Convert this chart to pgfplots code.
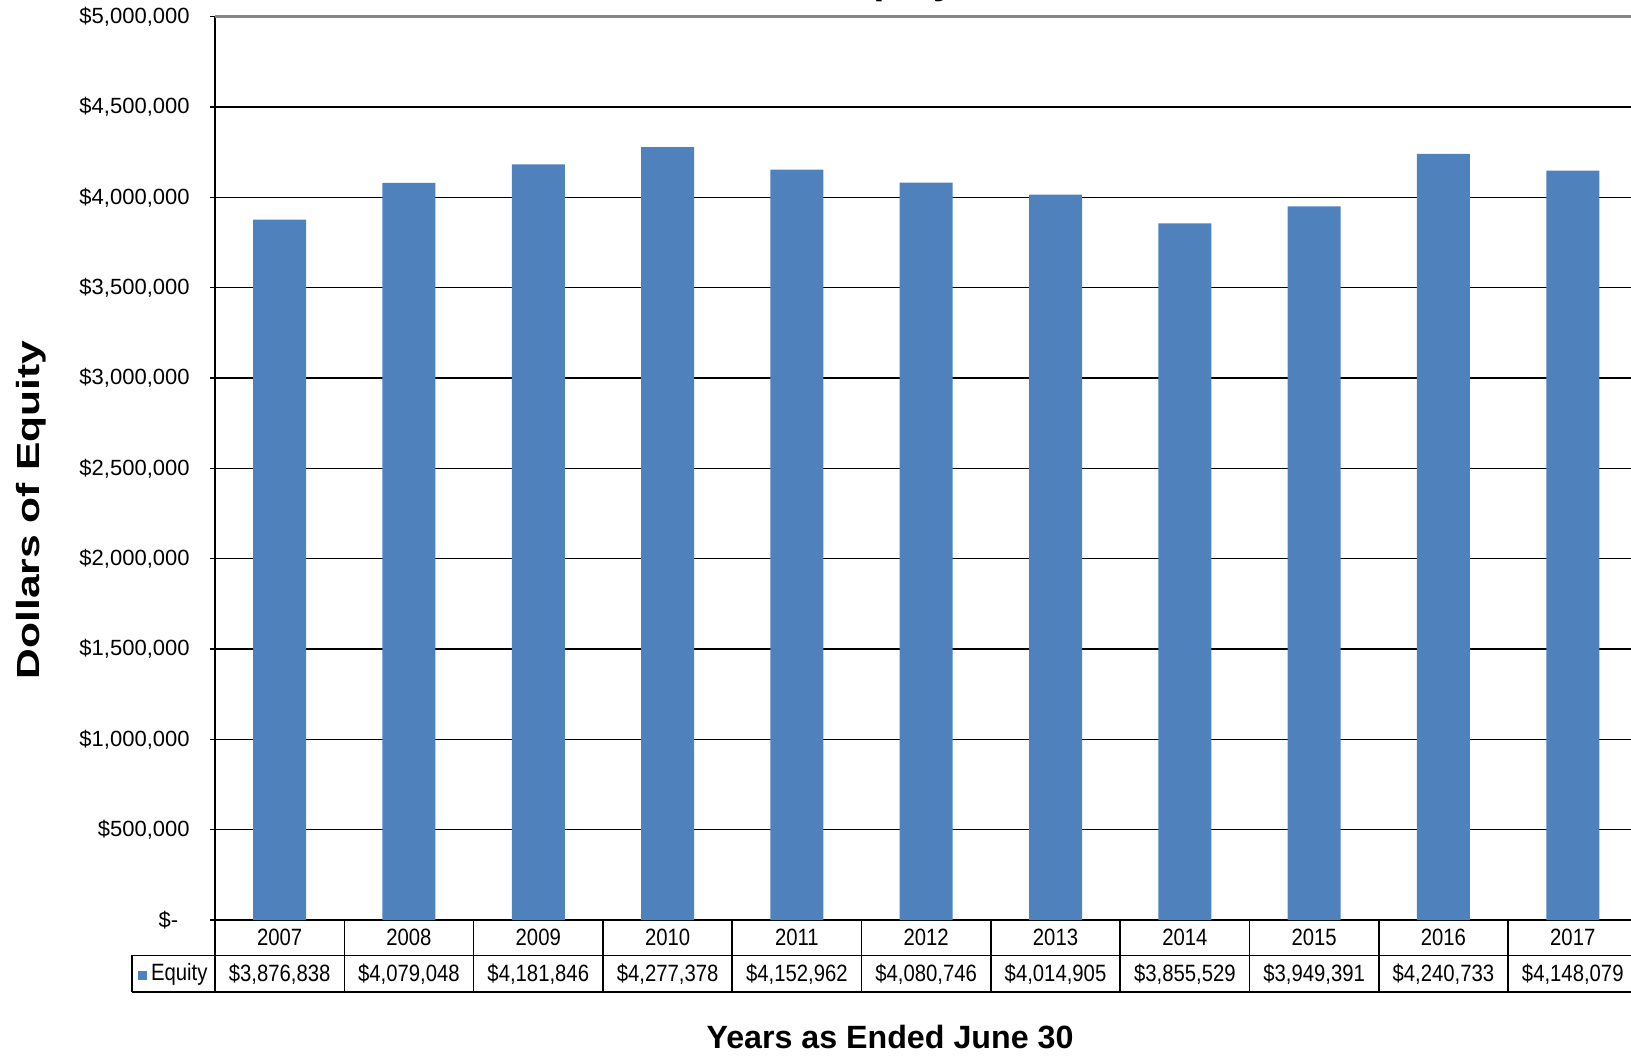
\documentclass[border=0pt]{standalone}
\usepackage{fontspec}
\setmainfont{Liberation Sans}
\newfontfamily\narrowfont[FakeStretch=0.86]{Liberation Sans}
\newfontfamily\widefont[FakeStretch=1.33]{Liberation Sans}
\usepackage{pgfplots}
\pgfplotsset{compat=1.18}
\definecolor{eqblue}{HTML}{4F81BD}
\begin{document}
\begin{tikzpicture}
\useasboundingbox (0,0) rectangle (815.5pt,527.5pt);
\clip (0,0) rectangle (815.5pt,527.5pt);
\begin{axis}[
  at={(107.5pt,67.5pt)}, anchor=south west,
  scale only axis, width=711.2pt, height=451.7pt,
  xmin=-0.5, xmax=10.5, ymin=0, ymax=5000000,
  axis x line*=bottom, axis y line*=left,
  axis line style={black, line width=0.75pt},
  xtick=\empty,
  ytick={0,500000,1000000,1500000,2000000,2500000,3000000,3500000,4000000,4500000,5000000},
  yticklabels={{\$-\hspace*{5.7pt}},{\$500,000},{\$1,000,000},{\$1,500,000},{\$2,000,000},{\$2,500,000},{\$3,000,000},{\$3,500,000},{\$4,000,000},{\$4,500,000},{\$5,000,000}},
  scaled y ticks=false,
  tick align=outside, major tick length=2.5pt,
  ytick style={black, line width=0.75pt},
  yticklabel style={font=\fontsize{11pt}{13pt}\selectfont, anchor=east, inner sep=0pt, xshift=-10pt},
  ymajorgrids, grid style={black, line width=0.75pt},
  clip=false,
]
\addplot[ybar, bar width=26.5pt, fill=eqblue, draw=none] coordinates {
  (0,3876838) (1,4079048) (2,4181846) (3,4277378) (4,4152962) (5,4080746)
  (6,4014905) (7,3855529) (8,3949391) (9,4240733) (10,4148079)
};
\draw[color=gray!95, line width=1.5pt] (axis cs:-0.5,5000000) -- (axis cs:10.5,5000000);
% data table grid
\draw[black, line width=0.75pt] ([xshift=-41.5pt,yshift=-17.7pt]axis cs:-0.5,0) -- ([yshift=-17.7pt]axis cs:10.5,0);
\draw[black, line width=0.75pt] ([xshift=-41.5pt,yshift=-36pt]axis cs:-0.5,0) -- ([yshift=-36pt]axis cs:10.5,0);
\draw[black, line width=0.75pt] ([xshift=-41.5pt,yshift=-17.7pt]axis cs:-0.5,0) -- ([xshift=-41.5pt,yshift=-36pt]axis cs:-0.5,0);
\pgfplotsinvokeforeach{-0.5,0.5,1.5,2.5,3.5,4.5,5.5,6.5,7.5,8.5,9.5,10.5}{
  \draw[black, line width=0.75pt] (axis cs:#1,0) -- ([yshift=-36pt]axis cs:#1,0);
}
\begin{scope}[every node/.style={font=\narrowfont\fontsize{11.8pt}{14pt}\selectfont, inner sep=0pt}]
\node at ([yshift=-8.6pt]axis cs:0,0) {2007};
\node at ([yshift=-8.6pt]axis cs:1,0) {2008};
\node at ([yshift=-8.6pt]axis cs:2,0) {2009};
\node at ([yshift=-8.6pt]axis cs:3,0) {2010};
\node at ([yshift=-8.6pt]axis cs:4,0) {2011};
\node at ([yshift=-8.6pt]axis cs:5,0) {2012};
\node at ([yshift=-8.6pt]axis cs:6,0) {2013};
\node at ([yshift=-8.6pt]axis cs:7,0) {2014};
\node at ([yshift=-8.6pt]axis cs:8,0) {2015};
\node at ([yshift=-8.6pt]axis cs:9,0) {2016};
\node at ([yshift=-8.6pt]axis cs:10,0) {2017};
\node at ([yshift=-27pt]axis cs:0,0) {\$3,876,838};
\node at ([yshift=-27pt]axis cs:1,0) {\$4,079,048};
\node at ([yshift=-27pt]axis cs:2,0) {\$4,181,846};
\node at ([yshift=-27pt]axis cs:3,0) {\$4,277,378};
\node at ([yshift=-27pt]axis cs:4,0) {\$4,152,962};
\node at ([yshift=-27pt]axis cs:5,0) {\$4,080,746};
\node at ([yshift=-27pt]axis cs:6,0) {\$4,014,905};
\node at ([yshift=-27pt]axis cs:7,0) {\$3,855,529};
\node at ([yshift=-27pt]axis cs:8,0) {\$3,949,391};
\node at ([yshift=-27pt]axis cs:9,0) {\$4,240,733};
\node at ([yshift=-27pt]axis cs:10,0) {\$4,148,079};
\node[anchor=west] at ([xshift=-38.5pt,yshift=-27pt]axis cs:-0.5,0) {\textcolor{eqblue}{\rule{4.5pt}{4.5pt}}\hspace{1.8pt}Equity};
\end{scope}
\end{axis}
\node[rotate=90, font=\widefont\bfseries\fontsize{16pt}{18pt}\selectfont] at (15.5pt,272.5pt) {Dollars of Equity};
\node[anchor=base, font=\bfseries\fontsize{16.1pt}{19pt}\selectfont] at (445pt,3.5pt) {Years as Ended June 30};
\node[anchor=base, font=\bfseries\fontsize{20pt}{24pt}\selectfont] at (447.5pt,530.7pt) {Equity};
\end{tikzpicture}
\end{document}
